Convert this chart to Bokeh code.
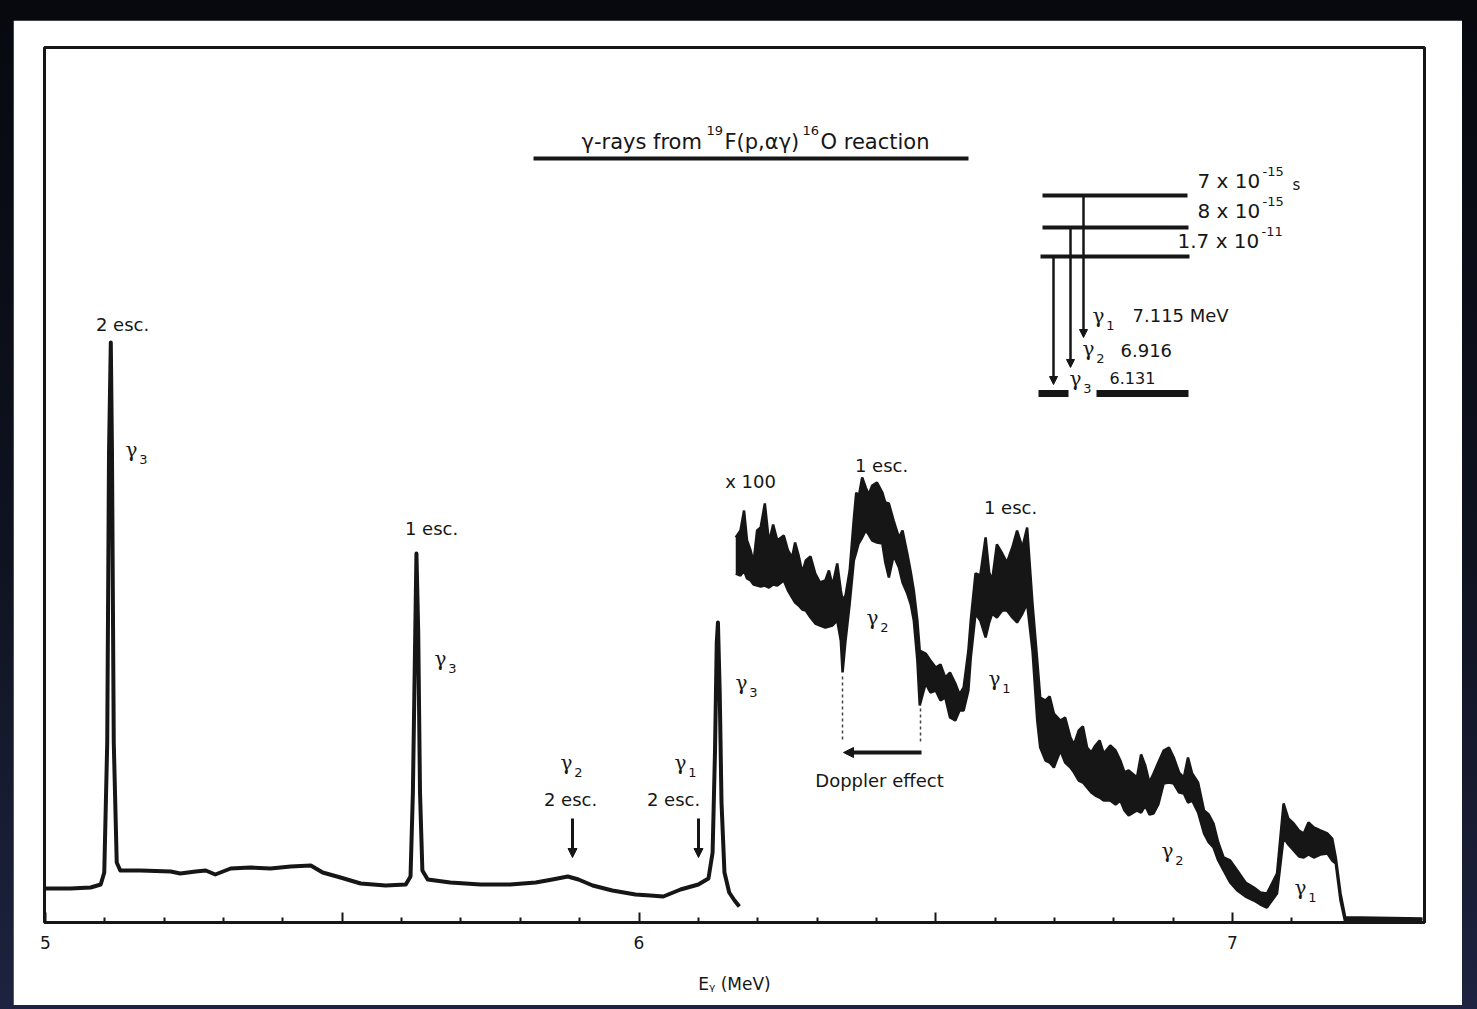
from bokeh.plotting import figure
from bokeh.models import Range1d, FixedTicker, Arrow, NormalHead
from bokeh.layouts import column
from bokeh.core.properties import value
from bokeh.embed import file_html
from bokeh.resources import INLINE

# ---------------- data ----------------
# normal-gain spectrum: gamma energy (MeV) vs counts (arb. units)
main_energy_mev = [5.000, 5.042, 5.076, 5.093, 5.099, 5.104, 5.107, 5.110, 5.112, 5.115,
                   5.120, 5.126, 5.160, 5.211, 5.227, 5.253, 5.270, 5.286, 5.312, 5.345,
                   5.379, 5.413, 5.447, 5.467, 5.497, 5.531, 5.573, 5.607, 5.615, 5.619,
                   5.623, 5.625, 5.628, 5.631, 5.635, 5.644, 5.682, 5.733, 5.783, 5.826,
                   5.854, 5.880, 5.898, 5.922, 5.955, 5.994, 6.019, 6.041, 6.070, 6.100,
                   6.117, 6.124, 6.128, 6.131, 6.133, 6.136, 6.139, 6.144, 6.152, 6.161,
                   6.169]
main_counts = [34, 34, 35, 38, 50, 180, 470, 580, 470, 180,
               60, 52, 52, 51, 49, 51, 52, 48, 54, 55,
               54, 56, 57, 50, 45, 39, 37, 38, 46, 130,
               290, 369, 290, 130, 52, 43, 40, 38, 38, 40,
               43, 46, 43, 37, 32, 28, 27, 26, 33, 38,
               44, 70, 170, 280, 300, 230, 120, 50, 30, 22,
               16]

# x100 spectrum: noisy band given by its lower and upper envelope
x100_energy_mev = [6.163, 6.171, 6.177, 6.182, 6.188, 6.193, 6.199, 6.205, 6.212, 6.219,
                   6.226, 6.233, 6.244, 6.251, 6.258, 6.263, 6.269, 6.275, 6.281, 6.289,
                   6.297, 6.305, 6.314, 6.320, 6.326, 6.334, 6.340, 6.343, 6.348, 6.355,
                   6.362, 6.366, 6.370, 6.376, 6.382, 6.387, 6.393, 6.401, 6.410, 6.415,
                   6.421, 6.429, 6.438, 6.444, 6.452, 6.458, 6.463, 6.469, 6.473, 6.483,
                   6.491, 6.500, 6.508, 6.516, 6.524, 6.533, 6.540, 6.547, 6.555, 6.559,
                   6.567, 6.575, 6.584, 6.590, 6.595, 6.603, 6.612, 6.620, 6.629, 6.637,
                   6.646, 6.654, 6.663, 6.671, 6.676, 6.685, 6.692, 6.699, 6.710, 6.718,
                   6.727, 6.733, 6.741, 6.748, 6.755, 6.762, 6.769, 6.776, 6.783, 6.794,
                   6.803, 6.811, 6.818, 6.825, 6.839, 6.846, 6.853, 6.860, 6.867, 6.875,
                   6.884, 6.893, 6.901, 6.910, 6.918, 6.925, 6.932, 6.942, 6.952, 6.960,
                   6.968, 6.976, 6.985, 6.996, 7.008, 7.022, 7.036, 7.047, 7.058, 7.075,
                   7.086, 7.094, 7.103, 7.112, 7.120, 7.128, 7.137, 7.148, 7.160, 7.168,
                   7.174, 7.182, 7.190, 7.216, 7.320]
x100_counts_upper = [385, 392, 412, 382, 372, 360, 392, 395, 419, 380,
                     398, 382, 387, 372, 365, 380, 367, 350, 362, 366,
                     349, 340, 342, 352, 337, 359, 332, 322, 327, 352,
                     404, 430, 425, 445, 435, 428, 437, 440, 430, 420,
                     419, 402, 385, 392, 369, 350, 332, 302, 272, 269,
                     262, 255, 258, 245, 250, 239, 228, 235, 272, 302,
                     349, 347, 385, 350, 342, 378, 369, 360, 375, 392,
                     375, 395, 319, 262, 225, 222, 226, 209, 202, 205,
                     185, 178, 192, 196, 175, 170, 177, 182, 169, 177,
                     172, 162, 150, 152, 145, 168, 157, 140, 149, 160,
                     172, 175, 165, 150, 145, 165, 149, 140, 112, 108,
                     99, 80, 65, 62, 52, 40, 35, 30, 29, 49,
                     119, 104, 99, 92, 89, 100, 95, 92, 89, 84,
                     65, 29, 5, 5, 4]
x100_counts_lower = [349, 347, 352, 344, 342, 338, 337, 336, 337, 335,
                     338, 337, 342, 332, 325, 320, 317, 313, 312, 305,
                     299, 297, 295, 296, 297, 302, 282, 250, 282, 319,
                     362, 370, 379, 385, 392, 388, 382, 380, 379, 360,
                     345, 367, 355, 340, 329, 318, 302, 262, 217, 239,
                     230, 232, 222, 225, 205, 202, 212, 212, 232, 265,
                     309, 302, 285, 300, 309, 305, 312, 312, 305, 300,
                     309, 319, 272, 202, 175, 162, 160, 155, 172, 160,
                     155, 150, 142, 140, 135, 130, 127, 125, 122, 122,
                     118, 122, 112, 107, 112, 110, 117, 108, 109, 118,
                     139, 140, 139, 130, 129, 120, 122, 110, 89, 80,
                     75, 62, 52, 40, 32, 26, 22, 18, 15, 29,
                     85, 78, 72, 66, 65, 68, 65, 68, 69, 62,
                     59, 22, 0, 0, 0]

major_ticks = [5.0, 5.5, 6.0, 6.5, 7.0]
major_tick_labels = {5.0: "5", 5.5: "", 6.0: "6", 6.5: "", 7.0: "7"}
minor_ticks = [5.1, 5.2, 5.3, 5.4, 5.6, 5.7, 5.8, 5.9, 6.1, 6.2, 6.3, 6.4,
               6.6, 6.7, 6.8, 6.9, 7.1, 7.2, 7.3]

INK = "#161616"
SANS = "DejaVu Sans"
SERIF = "DejaVu Serif"

# ---------------- figure ----------------
p = figure(width=1449, height=985, output_backend="svg", toolbar_location=None,
           x_range=Range1d(4.9983, 7.3235), y_range=Range1d(0, 875),
           y_axis_location=None, min_border_left=31, min_border_right=38,
           min_border_top=27, min_border_bottom=83,
           background_fill_color="white", border_fill_color="white")
p.margin = (20, 15, 4, 13)
p.xgrid.visible = False
p.ygrid.visible = False
p.outline_line_color = INK
p.outline_line_width = 3

ax = p.xaxis[0]
ax.ticker = FixedTicker(ticks=major_ticks, minor_ticks=minor_ticks)
ax.major_label_overrides = major_tick_labels
ax.axis_line_color = INK
ax.axis_line_width = 3
ax.major_tick_in = 10
ax.major_tick_out = 0
ax.minor_tick_in = 5
ax.minor_tick_out = 0
ax.major_tick_line_width = 2
ax.minor_tick_line_width = 2
ax.major_tick_line_color = INK
ax.minor_tick_line_color = INK
ax.major_label_text_font = SANS
ax.major_label_text_font_size = "17px"
ax.major_label_text_color = INK
ax.major_label_standoff = 13
ax.axis_label = "E\u1d67 (MeV)"
ax.axis_label_text_font = SANS
ax.axis_label_text_font_size = "17px"
ax.axis_label_text_font_style = "normal"
ax.axis_label_text_color = INK
ax.axis_label_standoff = 22


# helpers for placing annotations (picture position -> data position)
def ex(px):
    return 5.0 + (px - 45.0) / 593.5


def cy(py):
    return 922.0 - py


def txt(px, py, s, size=19, align="center", font=SANS):
    p.text(x=[ex(px)], y=[cy(py)], text=[s], text_font=value(font),
           text_font_size=f"{size}px", text_align=align, text_baseline="middle",
           text_color=INK)


def gam(px, py, sub):
    txt(px, py, "γ", size=20, font=SERIF)
    txt(px + 12, py + 10, sub, size=13)


def arrow_down(px, py0, py1, size=9, width=3):
    p.add_layout(Arrow(end=NormalHead(size=size, fill_color=INK, line_color=INK, line_width=1),
                       x_start=ex(px), y_start=cy(py0), x_end=ex(px), y_end=cy(py1),
                       line_width=width, line_color=INK))


# ---------------- spectra ----------------
p.line(main_energy_mev, main_counts, line_color=INK, line_width=4, line_join="round")
p.varea(x=x100_energy_mev, y1=x100_counts_lower, y2=x100_counts_upper, fill_color=INK)
p.line(x100_energy_mev, x100_counts_upper, line_color=INK, line_width=2.5)
p.line(x100_energy_mev, x100_counts_lower, line_color=INK, line_width=2.5)

# ---------------- title ----------------
txt(581, 141, "γ-rays from", size=21, align="left")
txt(706, 130, "19", size=13, align="left")
txt(724, 141, "F(p,αγ)", size=21, align="left")
txt(802, 130, "16", size=13, align="left")
txt(820, 141, "O reaction", size=21, align="left")
p.segment(x0=[ex(533)], y0=[cy(158)], x1=[ex(968)], y1=[cy(158)], line_color=INK, line_width=4)

# ---------------- peak labels ----------------
txt(122, 324, "2 esc.", size=18)
gam(131, 449, "3")
txt(431, 528, "1 esc.", size=18)
gam(440, 658, "3")
gam(741, 682, "3")
gam(566, 762, "2")
txt(570, 799, "2 esc.", size=18)
gam(680, 762, "1")
txt(673, 799, "2 esc.", size=18)
arrow_down(572, 818, 857)
arrow_down(698, 818, 857)
txt(750, 481, "x 100", size=18)
txt(881, 465, "1 esc.", size=18)
gam(872, 617, "2")
txt(1010, 507, "1 esc.", size=18)
gam(994, 678, "1")
gam(1167, 850, "2")
gam(1300, 887, "1")

# Doppler effect marker
p.segment(x0=[ex(842), ex(920)], y0=[cy(676), cy(708)], x1=[ex(842), ex(920)], y1=[cy(742), cy(742)],
          line_color="#444444", line_width=1.5, line_dash="3 3")
p.add_layout(Arrow(start=NormalHead(size=10, fill_color=INK, line_color=INK, line_width=1), end=None,
                   x_start=ex(843), y_start=cy(752), x_end=ex(921), y_end=cy(752),
                   line_width=4, line_color=INK))
txt(879, 780, "Doppler effect", size=18)

# ---------------- level scheme ----------------
p.segment(x0=[ex(1042), ex(1042), ex(1040)], y0=[cy(195), cy(227), cy(256)],
          x1=[ex(1187), ex(1188), ex(1189)], y1=[cy(195), cy(227), cy(256)],
          line_color=INK, line_width=4)
p.segment(x0=[ex(1038), ex(1096)], y0=[cy(393), cy(393)], x1=[ex(1068), ex(1188)], y1=[cy(393), cy(393)],
          line_color=INK, line_width=7)
arrow_down(1083, 195, 337, size=8, width=2.5)
arrow_down(1070, 227, 367, size=8, width=2.5)
arrow_down(1053, 256, 384, size=8, width=2.5)
txt(1197, 180, "7 x 10", size=20, align="left")
txt(1262, 171, "-15", size=13, align="left")
txt(1292, 184, "s", size=15, align="left")
txt(1197, 210, "8 x 10", size=20, align="left")
txt(1262, 201, "-15", size=13, align="left")
txt(1177, 240, "1.7 x 10", size=20, align="left")
txt(1261, 231, "-11", size=13, align="left")
gam(1098, 315, "1")
txt(1132, 315, "7.115 MeV", size=18, align="left")
gam(1088, 348, "2")
txt(1120, 350, "6.916", size=18, align="left")
gam(1075, 378, "3")
txt(1109, 377, "6.131", size=16, align="left")

page = column(p, styles={"background": "linear-gradient(180deg, #07090f 0%, #0f1320 55%, #1d2340 100%)"})

open("out.html", "w").write(file_html(page, INLINE))
